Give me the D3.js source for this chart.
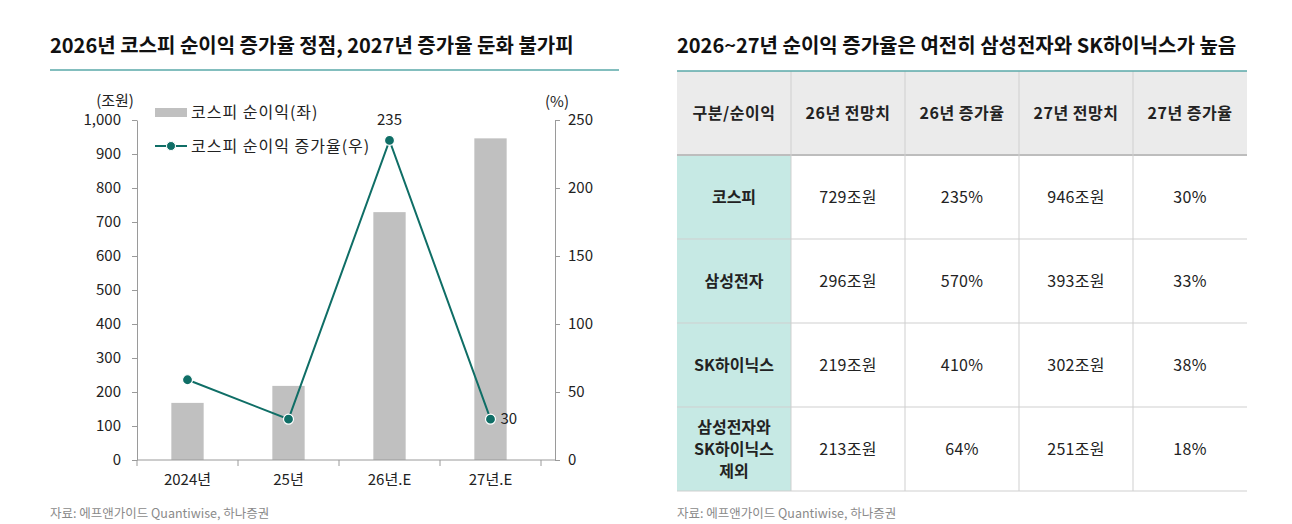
<!DOCTYPE html>
<html>
<head>
<meta charset="utf-8">
<script src="https://cdn.jsdelivr.net/npm/d3@7"></script>
<style>
  body { margin: 0; background: #fff; }
  svg text { font-family: "Noto Sans CJK KR", "Noto Sans", sans-serif; }
</style>
</head>
<body>
<div id="chart"></div>
<script>
// chart data
const categories = ["2024년", "25년", "26년.E", "27년.E"];
const profit = [168, 218, 729, 946];      // 조원 (left axis)
const growth = [59, 30, 235, 30];         // % (right axis)
const leftTicks = [0, 100, 200, 300, 400, 500, 600, 700, 800, 900, 1000];
const rightTicks = [0, 50, 100, 150, 200, 250];

// table data
const tableHeader = ["구분/순이익", "26년 전망치", "26년 증가율", "27년 전망치", "27년 증가율"];
const rowNames = [["코스피"], ["삼성전자"], ["SK하이닉스"], ["삼성전자와", "SK하이닉스", "제외"]];
const est26 = ["729조원", "296조원", "219조원", "213조원"];
const growth26 = ["235%", "570%", "410%", "64%"];
const est27 = ["946조원", "393조원", "302조원", "251조원"];
const growth27 = ["30%", "33%", "38%", "18%"];

const width = 1292, height = 524;
const teal = "#0f6e66";
const axisColor = "#9a9a9a";

const svg = d3.select("#chart").append("svg")
  .attr("width", width)
  .attr("height", height);

// ---------- left chart ----------
svg.append("text")
  .attr("x", 50).attr("y", 53)
  .attr("font-size", 20).attr("font-weight", 700).attr("fill", "#111")
  .text("2026년 코스피 순이익 증가율 정점, 2027년 증가율 둔화 불가피");

svg.append("line")
  .attr("x1", 50).attr("x2", 619).attr("y1", 70).attr("y2", 70)
  .attr("stroke", "#5aa9a8").attr("stroke-width", 1.5);

const x = d3.scaleBand().domain(categories).range([137, 541]).padding(0);
const yL = d3.scaleLinear().domain([0, 1000]).range([460, 120]);
const yR = d3.scaleLinear().domain([0, 250]).range([460, 120]);

const g = svg.append("g");

// bars
g.selectAll("rect.bar")
  .data(categories)
  .enter()
  .append("rect")
  .attr("class", "bar")
  .attr("x", d => x(d) + x.bandwidth() * 0.34)
  .attr("width", x.bandwidth() * 0.32)
  .attr("y", (d, i) => yL(profit[i]))
  .attr("height", (d, i) => yL(0) - yL(profit[i]))
  .attr("fill", "#c0c0c0");

// left axis
const leftAxis = g.append("g")
  .attr("transform", "translate(137,0)")
  .call(d3.axisLeft(yL).tickValues(leftTicks).tickSize(5).tickSizeOuter(0).tickFormat(d3.format(",")));

// right axis
const rightAxis = g.append("g")
  .attr("transform", "translate(555,0)")
  .call(d3.axisRight(yR).tickValues(rightTicks).tickSize(5).tickSizeOuter(0));

// bottom axis
const bottomAxis = g.append("g")
  .attr("transform", "translate(0,460)")
  .call(d3.axisBottom(x).tickSize(0).tickSizeOuter(0));
bottomAxis.select(".domain").attr("d", "M137,0H555");
bottomAxis.selectAll(".sep")
  .data(d3.range(categories.length + 1))
  .enter()
  .append("line")
  .attr("class", "sep")
  .attr("x1", i => 137 + i * x.step())
  .attr("x2", i => 137 + i * x.step())
  .attr("y1", 0).attr("y2", 6)
  .attr("stroke", axisColor);

[leftAxis, rightAxis, bottomAxis].forEach(a => {
  a.selectAll(".domain").attr("stroke", axisColor);
  a.selectAll(".tick line").attr("stroke", axisColor);
  a.selectAll("text").attr("font-size", 15).attr("fill", "#222")
    .style("font-family", "'Noto Sans CJK KR', sans-serif");
});
leftAxis.selectAll("text").attr("x", -16);
rightAxis.selectAll("text").attr("x", 13);
bottomAxis.selectAll("text").attr("y", 14);

g.append("text").attr("x", 115).attr("y", 106).attr("text-anchor", "middle")
  .attr("font-size", 15).attr("fill", "#222").text("(조원)");
g.append("text").attr("x", 557).attr("y", 107).attr("text-anchor", "middle")
  .attr("font-size", 15).attr("fill", "#222").text("(%)");

// growth line
const line = d3.line()
  .x((d, i) => x(categories[i]) + x.bandwidth() / 2)
  .y(d => yR(d));

g.append("path")
  .datum(growth)
  .attr("d", line)
  .attr("fill", "none")
  .attr("stroke", teal)
  .attr("stroke-width", 2);

g.selectAll("circle.pt")
  .data(growth)
  .enter()
  .append("circle")
  .attr("class", "pt")
  .attr("cx", (d, i) => x(categories[i]) + x.bandwidth() / 2)
  .attr("cy", d => yR(d))
  .attr("r", 5)
  .attr("fill", teal)
  .attr("stroke", "#fff")
  .attr("stroke-width", 1.2);

// point labels
g.append("text")
  .attr("x", x(categories[2]) + x.bandwidth() / 2)
  .attr("y", yR(growth[2]) - 15)
  .attr("text-anchor", "middle").attr("font-size", 15).attr("fill", "#222")
  .text(growth[2]);
g.append("text")
  .attr("x", x(categories[3]) + x.bandwidth() / 2 + 10)
  .attr("y", yR(growth[3]) + 5)
  .attr("font-size", 15).attr("fill", "#222")
  .text(growth[3]);

// legend
const legend = g.append("g").attr("transform", "translate(155,112)");
legend.append("rect").attr("x", 0).attr("y", -4).attr("width", 32).attr("height", 9).attr("fill", "#c0c0c0");
legend.append("text").attr("x", 36).attr("y", 6).attr("font-size", 16).attr("letter-spacing", 1)
  .attr("fill", "#222").text("코스피 순이익(좌)");
legend.append("line").attr("x1", 0).attr("x2", 32).attr("y1", 34).attr("y2", 34).attr("stroke", teal).attr("stroke-width", 2);
legend.append("circle").attr("cx", 16).attr("cy", 34).attr("r", 4.5).attr("fill", teal).attr("stroke", "#fff");
legend.append("text").attr("x", 36).attr("y", 40).attr("font-size", 16).attr("letter-spacing", 1)
  .attr("fill", "#222").text("코스피 순이익 증가율(우)");

svg.append("text")
  .attr("x", 50).attr("y", 518)
  .attr("font-size", 12.5).attr("fill", "#8a8a8a")
  .text("자료: 에프앤가이드 Quantiwise, 하나증권");

// ---------- right table ----------
svg.append("text")
  .attr("x", 677).attr("y", 53)
  .attr("font-size", 20).attr("font-weight", 700).attr("fill", "#111")
  .text("2026~27년 순이익 증가율은 여전히 삼성전자와 SK하이닉스가 높음");

const colX = [677, 791, 905, 1019, 1133, 1247];
const rowY = [71, 155, 239, 323, 407, 491];
const t = svg.append("g");

// header background
t.append("rect").attr("x", colX[0]).attr("y", rowY[0])
  .attr("width", colX[5] - colX[0]).attr("height", rowY[1] - rowY[0]).attr("fill", "#ebebeb");
// first column background
t.append("rect").attr("x", colX[0]).attr("y", rowY[1])
  .attr("width", colX[1] - colX[0]).attr("height", rowY[5] - rowY[1]).attr("fill", "#c6e9e4");

// grid lines
t.selectAll("line.h")
  .data(rowY.slice(1))
  .enter()
  .append("line")
  .attr("x1", colX[0]).attr("x2", colX[5])
  .attr("y1", d => d).attr("y2", d => d)
  .attr("stroke", (d, i) => i === 0 ? "#bdbdbd" : "#cfcfcf")
  .attr("stroke-width", (d, i) => i === 0 ? 2 : 1);
t.selectAll("line.v")
  .data(colX.slice(1, 5))
  .enter()
  .append("line")
  .attr("x1", d => d).attr("x2", d => d)
  .attr("y1", rowY[0]).attr("y2", rowY[5])
  .attr("stroke", "#cfcfcf");
t.append("line")
  .attr("x1", colX[0]).attr("x2", colX[5]).attr("y1", rowY[0]).attr("y2", rowY[0])
  .attr("stroke", "#5aa9a8").attr("stroke-width", 1.5);

const cx = i => (colX[i] + colX[i + 1]) / 2;
const cy = i => (rowY[i] + rowY[i + 1]) / 2;

tableHeader.forEach((h, i) => {
  t.append("text").attr("x", cx(i)).attr("y", cy(0) + 6)
    .attr("text-anchor", "middle").attr("font-size", 16).attr("font-weight", 700).attr("fill", "#222")
    .attr("letter-spacing", 0.5)
    .text(h);
});

const cols = [est26, growth26, est27, growth27];
rowNames.forEach((lines, r) => {
  const txt = t.append("text").attr("x", cx(0)).attr("y", cy(r + 1) + 6 - (lines.length - 1) * 11)
    .attr("text-anchor", "middle").attr("font-size", 16).attr("font-weight", 700).attr("fill", "#222");
  lines.forEach((l, k) => {
    txt.append("tspan").attr("x", cx(0)).attr("dy", k === 0 ? 0 : 22).text(l);
  });
  cols.forEach((col, c) => {
    t.append("text").attr("x", cx(c + 1)).attr("y", cy(r + 1) + 6)
      .attr("text-anchor", "middle").attr("font-size", 16).attr("fill", "#222")
      .attr("letter-spacing", 0.3)
      .text(col[r]);
  });
});

svg.append("text")
  .attr("x", 677).attr("y", 518)
  .attr("font-size", 12.5).attr("fill", "#8a8a8a")
  .text("자료: 에프앤가이드 Quantiwise, 하나증권");
</script>
</body>
</html>
